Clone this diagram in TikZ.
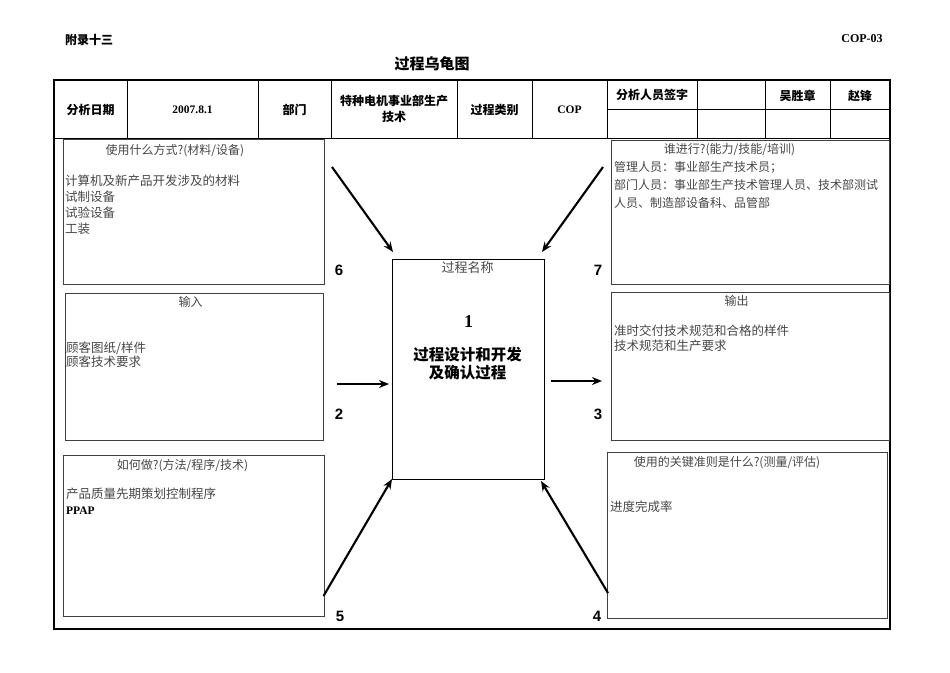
\documentclass[tikz,border=0pt]{standalone}
\usepackage{fontspec}
\setmainfont{Liberation Serif}
\newfontfamily\cjk{Noto Sans CJK SC}
\newfontfamily\numfont{Liberation Sans}
\usetikzlibrary{arrows.meta}
\begin{document}
\begin{tikzpicture}[x=1pt,y=-1pt,
  box/.style={draw=black!75, line width=1.1pt},
  arr/.style={line width=2.1pt, -{Stealth[length=10pt,width=8pt]}},
  body/.style={font={\cjk\fontsize{12.5}{14}\selectfont}, text=black!72, inner sep=0, anchor=west},
  hdr/.style={font={\cjk\fontsize{12}{14}\selectfont}, text=black!72, inner sep=0},
  tbl/.style={font={\cjk\bfseries\fontsize{12}{14}\selectfont}, inner sep=0},
  tnum/.style={font={\bfseries\fontsize{11.5}{14}\selectfont}, inner sep=0},
  num/.style={font={\numfont\bfseries\fontsize{15}{15}\selectfont}, inner sep=0}]
\useasboundingbox[fill=white] (0,0) rectangle (950,672);

% page heading
\node[tbl] (appx) at (89,40) {附录十三};
\node[tnum, font={\bfseries\fontsize{12}{14}\selectfont}] (code) at (862,39) {COP-03};
\node[tbl, font={\cjk\bfseries\fontsize{15}{18}\selectfont}] (title) at (432,64) {过程乌龟图};

% outer frame and table
\draw[line width=1.5pt] (54,80) rectangle (890,629);
\draw[line width=2.6pt] (53.5,629) -- (890.5,629);
\draw[line width=1pt] (54,138) -- (890,138);
\foreach \x in {127,258,331,457,532,607,697,765,830}
  \draw[line width=1pt] (\x,80) -- (\x,138);
\draw[line width=1pt] (607,109) -- (890,109);

\node[tbl] (c1) at (90.5,110) {分析日期};
\node[tnum] (c2) at (192.5,110) {2007.8.1};
\node[tbl] (c3) at (294.5,110) {部门};
\node[tbl] (c4a) at (394,101) {特种电机事业部生产};
\node[tbl] (c4b) at (394,117) {技术};
\node[tbl] (c5) at (494.5,110) {过程类别};
\node[tnum] (c6) at (569.5,110) {COP};
\node[tbl] (c7) at (652,95) {分析人员签字};
\node[tbl] (c8) at (797.5,95.5) {吴胜章};
\node[tbl] (c9) at (860,95.5) {赵锋};

% six boxes
\node[box, anchor=north west, minimum width=261pt, minimum height=145pt, inner sep=0] (mat) at (63,139) {};
\node[box, anchor=north west, minimum width=258pt, minimum height=147pt, inner sep=0] (inp) at (65,293) {};
\node[box, anchor=north west, minimum width=261pt, minimum height=161pt, inner sep=0] (how) at (63,454.5) {};
\node[box, anchor=north west, minimum width=278pt, minimum height=144pt, inner sep=0] (who) at (611,139.5) {};
\node[box, anchor=north west, minimum width=278pt, minimum height=148pt, inner sep=0] (out) at (611,291.5) {};
\node[box, anchor=north west, minimum width=280pt, minimum height=166pt, inner sep=0] (crit) at (607,451.5) {};

% center process box
\node[draw=black, line width=1.1pt, anchor=north west, minimum width=152pt, minimum height=220pt, inner sep=0] (proc) at (392,258.5) {};
\node[hdr, font={\cjk\fontsize{13}{15}\selectfont}] (pname) at (467.5,268) {过程名称};
\node[inner sep=0, font={\bfseries\fontsize{18}{18}\selectfont}] (pnum) at (468.5,321.5) {1};
\node[tbl, font={\cjk\bfseries\fontsize{15.5}{18}\selectfont}] (pt1) at (467.5,355) {过程设计和开发};
\node[tbl, font={\cjk\bfseries\fontsize{15.5}{18}\selectfont}] (pt2) at (467.5,373) {及确认过程};

% box texts: materials
\node[hdr] (matH) at (175,150.5) {使用什么方式?(材料/设备)};
\node[body] (m1) at (65,181) {计算机及新产品开发涉及的材料};
\node[body] (m2) at (65,197) {试制设备};
\node[body] (m3) at (65,213) {试验设备};
\node[body] (m4) at (65,229) {工装};

% who
\node[hdr] (whoH) at (729.5,150) {谁进行?(能力/技能/培训)};
\node[body, font={\cjk\fontsize{12}{14}\selectfont}] (w1) at (614,167) {管理人员：事业部生产技术员；};
\node[body, font={\cjk\fontsize{12}{14}\selectfont}] (w2) at (614,185) {部门人员：事业部生产技术管理人员、技术部测试};
\node[body, font={\cjk\fontsize{12}{14}\selectfont}] (w3) at (614,202.5) {人员、制造部设备科、品管部};

% input
\node[hdr] (inpH) at (190.5,301.5) {输入};
\node[body] (i1) at (66,348) {顾客图纸/样件};
\node[body] (i2) at (66,362) {顾客技术要求};

% output
\node[hdr] (outH) at (736.5,300.5) {输出};
\node[body] (o1) at (614,330.5) {准时交付技术规范和合格的样件};
\node[body] (o2) at (614,346) {技术规范和生产要求};

% how
\node[hdr] (howH) at (182.5,466) {如何做?(方法/程序/技术)};
\node[body] (h1) at (66,493.5) {产品质量先期策划控制程序};
\node[body, font={\bfseries\fontsize{11.5}{14}\selectfont}, text=black] (h2) at (66,510.5) {PPAP};

% criteria
\node[hdr] (critH) at (727,462.5) {使用的关键准则是什么?(测量/评估)};
\node[body] (k1) at (610,506.5) {进度完成率};

% number labels
\node[num] (n6) at (339,270) {6};
\node[num] (n7) at (598,270) {7};
\node[num] (n2) at (339,414) {2};
\node[num] (n3) at (598,414) {3};
\node[num] (n5) at (340,616) {5};
\node[num] (n4) at (597,616) {4};

% arrows
\coordinate (s6) at (332,167);  \coordinate (e6) at (393,252);
\coordinate (s7) at (603,167);  \coordinate (e7) at (542,252);
\coordinate (s2) at (337,384);  \coordinate (e2) at (389,384);
\coordinate (s3) at (551,381);  \coordinate (e3) at (602,381);
\coordinate (s5) at (323.5,596); \coordinate (e5) at (392,479);
\coordinate (s4) at (608,593);  \coordinate (e4) at (541,481);
\draw[arr] (s6) -- (e6);
\draw[arr] (s7) -- (e7);
\draw[arr] (s2) -- (e2);
\draw[arr] (s3) -- (e3);
\draw[arr] (s5) -- (e5);
\draw[arr] (s4) -- (e4);
\end{tikzpicture}
\end{document}
